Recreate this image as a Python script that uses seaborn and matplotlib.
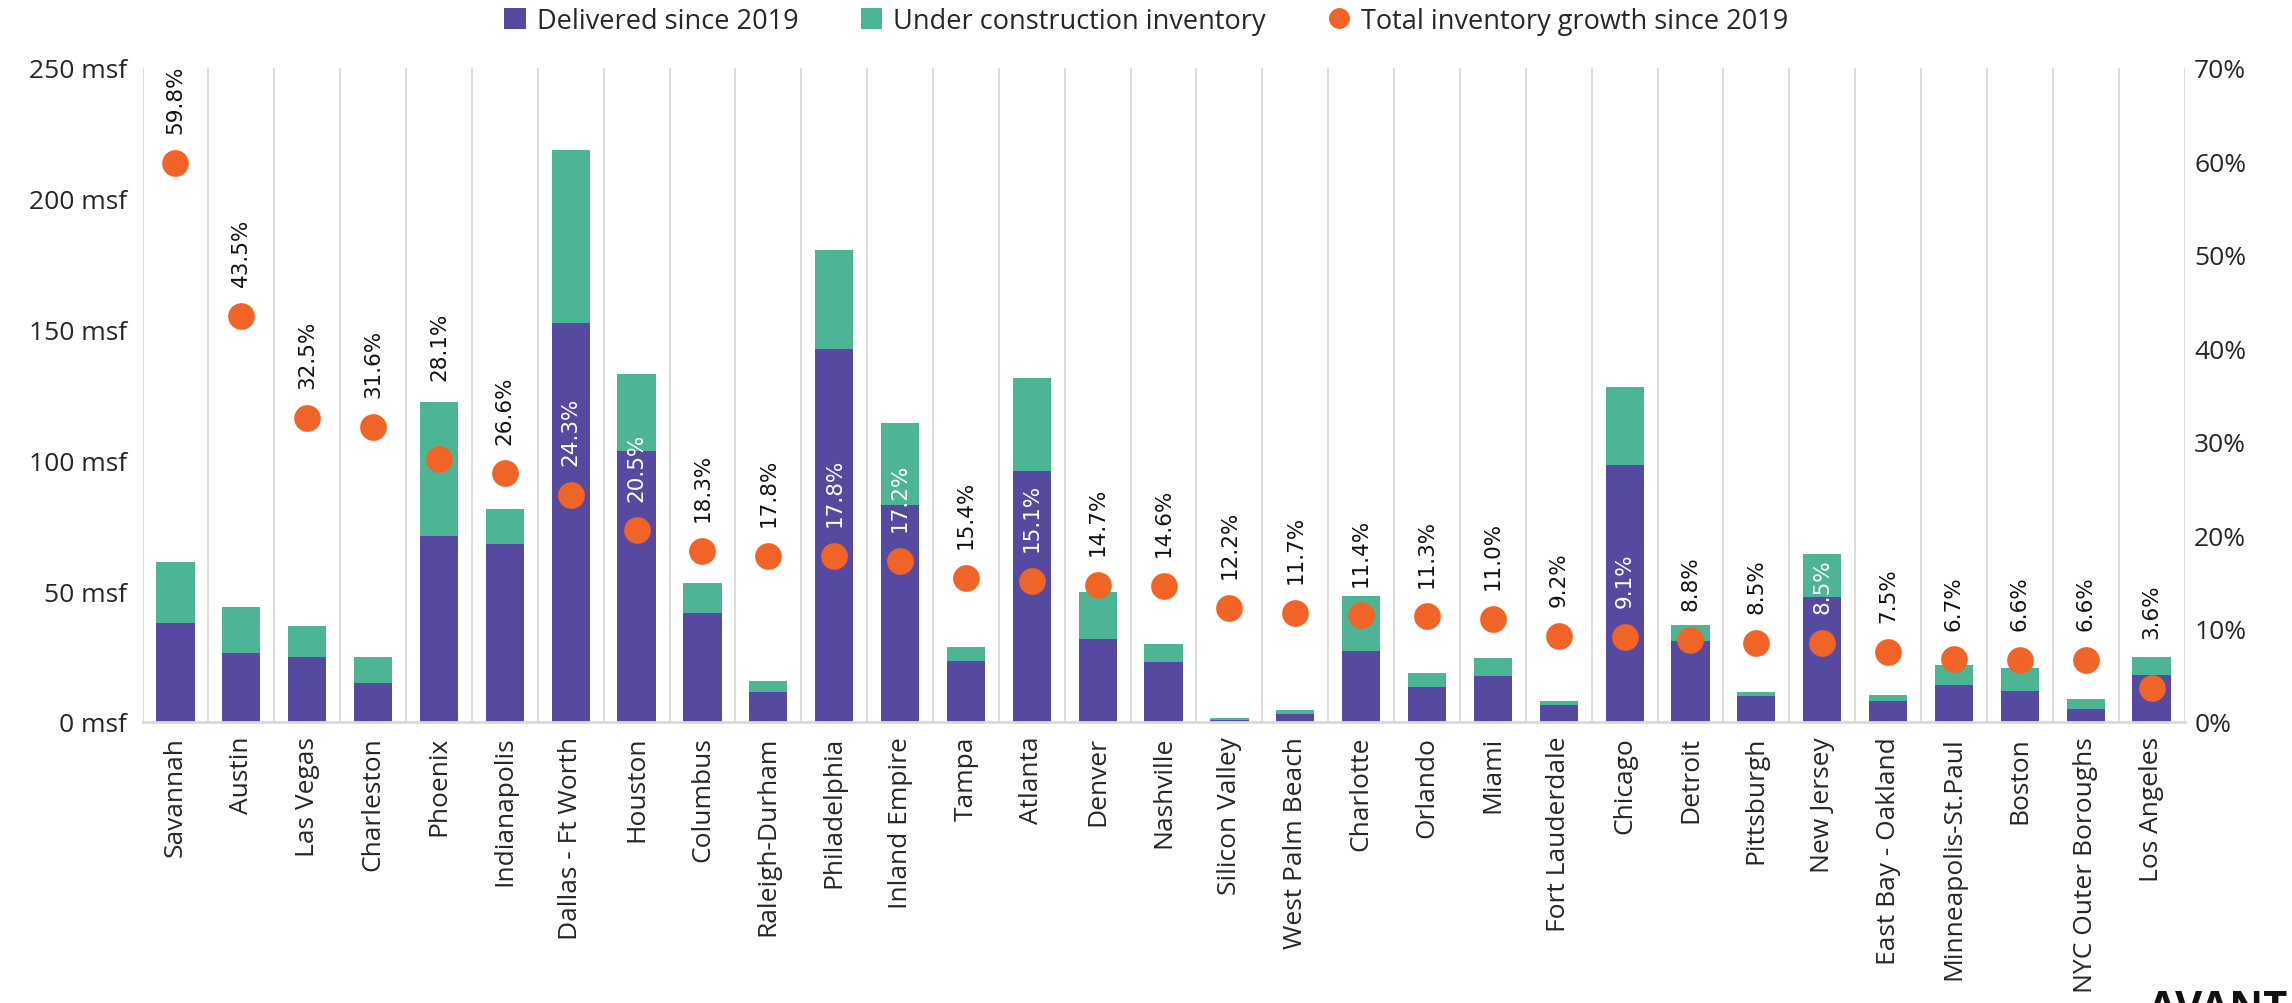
import matplotlib
matplotlib.use("Agg")
import matplotlib.pyplot as plt
import seaborn as sns
import numpy as np
import pandas as pd
from matplotlib.patches import Patch
from matplotlib.lines import Line2D

markets = ["Savannah", "Austin", "Las Vegas", "Charleston", "Phoenix", "Indianapolis",
           "Dallas - Ft Worth", "Houston", "Columbus", "Raleigh-Durham", "Philadelphia",
           "Inland Empire", "Tampa", "Atlanta", "Denver", "Nashville", "Silicon Valley",
           "West Palm Beach", "Charlotte", "Orlando", "Miami", "Fort Lauderdale", "Chicago",
           "Detroit", "Pittsburgh", "New Jersey", "East Bay - Oakland", "Minneapolis-St.Paul",
           "Boston", "NYC Outer Boroughs", "Los Angeles"]

delivered = [37.9, 26.3, 24.9, 15.0, 71.1, 68.1, 152.7, 103.4, 41.6, 11.6, 142.6,
             82.8, 23.4, 95.9, 31.8, 23.0, 0.9, 2.9, 27.2, 13.2, 17.7, 6.5, 98.2,
             31.0, 10.0, 47.6, 7.9, 14.2, 11.9, 5.0, 18.1]

under_construction = [23.4, 17.5, 11.7, 9.8, 51.3, 13.3, 66.0, 29.7, 11.5, 3.9, 38.0,
                      31.4, 5.1, 35.5, 17.7, 6.8, 0.6, 1.6, 20.8, 5.4, 6.6, 1.4, 29.9,
                      6.0, 1.3, 16.8, 2.4, 7.7, 8.8, 3.7, 6.7]

growth_pct = [59.8, 43.5, 32.5, 31.6, 28.1, 26.6, 24.3, 20.5, 18.3, 17.8, 17.8, 17.2,
              15.4, 15.1, 14.7, 14.6, 12.2, 11.7, 11.4, 11.3, 11.0, 9.2, 9.1, 8.8,
              8.5, 8.5, 7.5, 6.7, 6.6, 6.6, 3.6]

# labels drawn in white (sitting on the purple bars)
white_labels = ["Dallas - Ft Worth", "Houston", "Philadelphia", "Inland Empire",
                "Atlanta", "Chicago", "New Jersey"]

left_ticks = [0, 50, 100, 150, 200, 250]
left_tick_labels = ["0 msf", "50 msf", "100 msf", "150 msf", "200 msf", "250 msf"]
right_ticks = [0, 10, 20, 30, 40, 50, 60, 70]
right_tick_labels = ["0%", "10%", "20%", "30%", "40%", "50%", "60%", "70%"]

PURPLE = "#5649A0"
GREEN = "#4DB596"
ORANGE = "#F06428"
GRID = "#D9D9D9"

# label offsets (points above the dot); a few labels were lifted above their bars
LABEL_OFFSET = 21.5
label_lift = {"Phoenix": 57, "Los Angeles": 36}

sns.set_theme(style="white")
plt.rcParams['font.family'] = ['Open Sans', 'DejaVu Sans']

df = pd.DataFrame({"market": markets,
                   "delivered": delivered,
                   "total": np.array(delivered) + np.array(under_construction),
                   "growth": growth_pct})

fig = plt.figure(figsize=(22.92, 10.04), dpi=100)
ax = fig.add_axes([0.0622, 0.2799, 0.8909, 0.6514])

sns.barplot(data=df, x="market", y="total", color=GREEN, width=0.58,
            saturation=1, edgecolor="none", ax=ax, zorder=2)
sns.barplot(data=df, x="market", y="delivered", color=PURPLE, width=0.58,
            saturation=1, edgecolor="none", ax=ax, zorder=3)

n = len(markets)
ax.set_xlim(-0.5, n - 0.5)
ax.set_ylim(0, 250)
ax.set_yticks(left_ticks)
ax.set_yticklabels(left_tick_labels, fontsize=19)
ax.set_xlabel("")
ax.set_ylabel("")
ax.set_xticks(range(n))
ax.set_xticklabels(markets, rotation=90, fontsize=19)
ax.tick_params(axis="x", length=0, pad=10)
ax.tick_params(axis="y", length=0, pad=11)

# vertical category separators
for b in np.arange(-0.5, n, 1.0):
    ax.axvline(b, color=GRID, lw=1.3, zorder=1)

for s in ["top", "left", "right"]:
    ax.spines[s].set_visible(False)
ax.spines["bottom"].set_color(GRID)
ax.spines["bottom"].set_linewidth(2)
ax.spines["bottom"].set_zorder(4)

ax2 = ax.twinx()
ax2.scatter(np.arange(n), df["growth"], s=370, color=ORANGE, zorder=5, linewidths=0)
ax2.set_ylim(0, 70)
ax2.set_yticks(right_ticks)
ax2.set_yticklabels(right_tick_labels, fontsize=19)
ax2.tick_params(axis="y", length=0, pad=7)
for s in ["top", "left", "right", "bottom"]:
    ax2.spines[s].set_visible(False)

for i, (m, g) in enumerate(zip(markets, growth_pct)):
    off = label_lift.get(m, LABEL_OFFSET)
    ax2.annotate(f"{g:.1f}%", (i, g), xytext=(0, off), textcoords="offset points",
                 rotation=90, ha="center", va="bottom", fontsize=15.5,
                 family="DejaVu Sans",
                 color="white" if m in white_labels else "#111111", zorder=6)

handles = [Patch(facecolor=PURPLE, edgecolor="none"),
           Patch(facecolor=GREEN, edgecolor="none"),
           Line2D([], [], marker="o", color=ORANGE, linestyle="none", markersize=14)]
fig.legend(handles, ["Delivered since 2019", "Under construction inventory",
                     "Total inventory growth since 2019"],
           loc="center", bbox_to_anchor=(0.5, 0.978), ncol=3, frameon=False,
           fontsize=19.5, handlelength=0.8, handleheight=0.8, handletextpad=0.4,
           columnspacing=2.3)

fig.text(2148 / 2292, 1 - 990 / 1004, "AVANT", fontsize=30, fontweight="bold",
         family="Open Sans", color="#111111", ha="left", va="top")

fig.savefig("out.png", dpi=100, facecolor="white")
